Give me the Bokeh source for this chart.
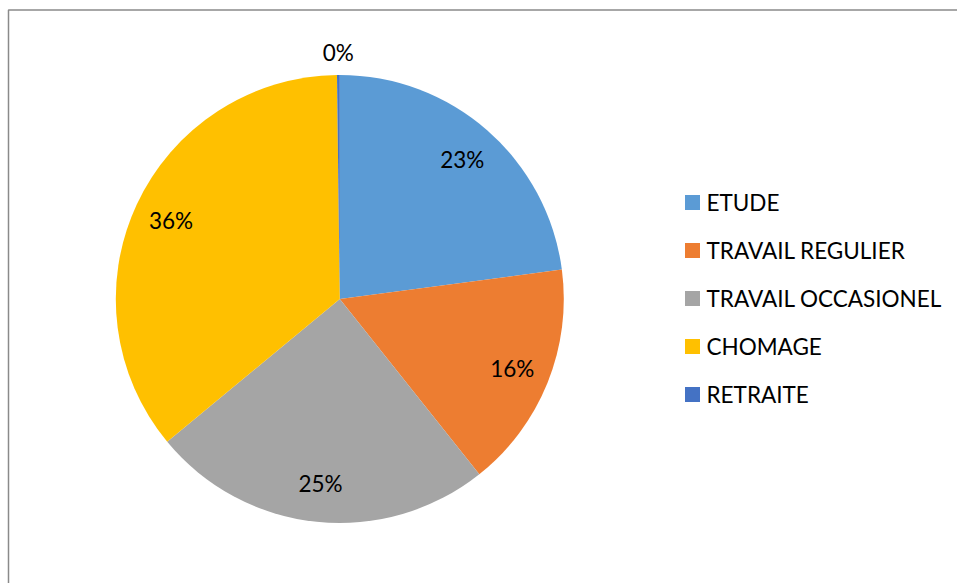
import math
from bokeh.plotting import figure
from bokeh.models import ColumnDataSource, Range1d
from bokeh.core.properties import value
from bokeh.embed import file_html
from bokeh.resources import INLINE

categories = ["ETUDE", "TRAVAIL REGULIER", "TRAVAIL OCCASIONEL", "CHOMAGE", "RETRAITE"]
values = [22.9, 16.4, 24.7, 35.8, 0.2]
colors = ["#5B9BD5", "#ED7D31", "#A5A5A5", "#FFC000", "#4472C4"]

W, H = 957, 583
FONT = "Lato"

p = figure(width=W, height=H, output_backend="svg", toolbar_location=None,
           x_range=Range1d(0, W), y_range=Range1d(0, H), min_border=0)
p.axis.visible = False
p.grid.visible = False
p.outline_line_color = None
p.background_fill_color = "white"
p.border_fill_color = "white"

# chart border (top & left visible in the window)
p.line(x=[8, 8, W], y=[0, H - 9.5, H - 9.5], line_color="#8a8a8a", line_width=1.5)

cx, cy, r = 339.3, H - 298.5, 224
total = sum(values)
starts, ends, lx, ly, labels = [], [], [], [], []
cum = 0.0
for v in values:
    a0 = math.pi / 2 - 2 * math.pi * cum / total
    a1 = math.pi / 2 - 2 * math.pi * (cum + v) / total
    starts.append(a0)
    ends.append(a1)
    mid = (a0 + a1) / 2
    rf = 1.1 if v < 1 else 0.83
    lx.append(cx + rf * r * math.cos(mid))
    ly.append(cy + rf * r * math.sin(mid))
    labels.append(f"{round(v / total * 100):d}%")
    cum += v

src = ColumnDataSource(dict(start=starts, end=ends, color=colors, lx=lx, ly=ly, label=labels))
p.wedge(x=cx, y=cy, radius=r, start_angle="end", end_angle="start", fill_color="color",
        line_color=None, source=src)
p.text(x="lx", y="ly", text="label", source=src, text_align="center", text_baseline="middle",
       text_font=value(FONT), text_font_size="22.5px", text_color="#000000")

# legend
leg_x = 684
leg_y0 = H - 202
step = 48
ly2 = [leg_y0 - i * step for i in range(len(categories))]
lsrc = ColumnDataSource(dict(x=[leg_x + 8] * len(categories), y=ly2, color=colors,
                             tx=[leg_x + 22] * len(categories), name=categories))
p.rect(x="x", y="y", width=15, height=15, fill_color="color", line_color=None, source=lsrc)
p.text(x="tx", y="y", text="name", source=lsrc, text_baseline="middle",
       text_font=value(FONT), text_font_size="22.5px", text_color="#000000")

open("out.html", "w").write(file_html(p, INLINE))
